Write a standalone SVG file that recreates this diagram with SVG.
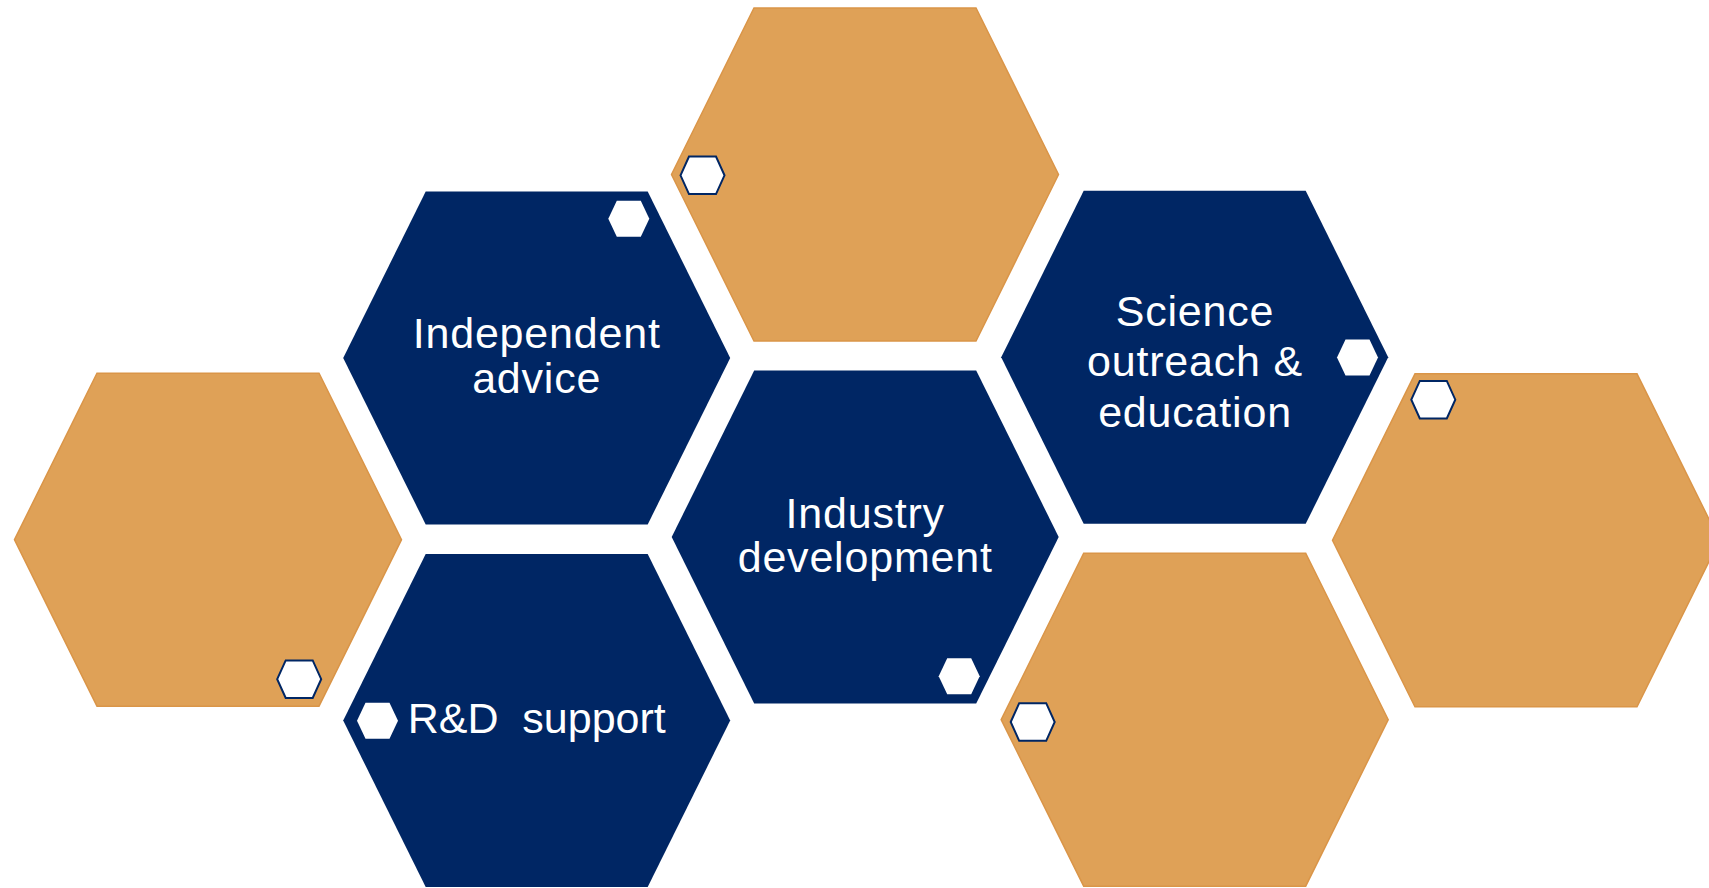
<svg xmlns="http://www.w3.org/2000/svg" xmlns:xlink="http://www.w3.org/1999/xlink" width="1709" height="888" viewBox="0 0 1709 888">
  <style>
    .navy { fill: #002664; }
    .gold { fill: #DFA157; stroke: #DA9548; stroke-width: 1.5; }
    .dot-white { fill: #FFFFFF; }
    .dot-ring { fill: #FFFFFF; stroke: #002664; stroke-width: 2; }
    .lbl { font-family: "Liberation Sans", Arial, sans-serif; font-size: 43px; fill: #FFFFFF; letter-spacing: 0.8px; }
    .mid { text-anchor: middle; }
    .tight { letter-spacing: 0; }
  </style>
  <defs>
    <polygon id="big" points="-193.5,0 -111,-166.5 111,-166.5 193.5,0 111,166.5 -111,166.5"/>
    <polygon id="smallW" points="-20.5,0 -12,-18 12,-18 20.5,0 12,18 -12,18"/>
    <polygon id="smallR" points="-22,0 -13.5,-18.8 13.5,-18.8 22,0 13.5,18.8 -13.5,18.8"/>
  </defs>
  <rect width="1709" height="888" fill="#FFFFFF"/>

  <g id="connectors"></g>

  <g id="hex-top-gold">
    <use href="#big" class="gold" x="865" y="174.5"/>
    <use href="#smallR" class="dot-ring" x="702.5" y="175.3"/>
  </g>

  <g id="hex-left-gold">
    <use href="#big" class="gold" x="208" y="539.7"/>
    <use href="#smallR" class="dot-ring" x="299.2" y="679.2"/>
  </g>

  <g id="hex-right-gold">
    <use href="#big" class="gold" x="1526" y="540.3"/>
    <use href="#smallR" class="dot-ring" x="1433.3" y="399.7"/>
  </g>

  <g id="hex-bottom-right-gold">
    <use href="#big" class="gold" x="1194.7" y="719.7"/>
    <use href="#smallR" class="dot-ring" x="1032.7" y="722"/>
  </g>

  <g id="hex-independent-advice">
    <use href="#big" class="navy" x="536.7" y="358"/>
    <use href="#smallW" class="dot-white" x="628.8" y="218.7"/>
    <text class="lbl mid" x="536.7" y="348.3">Independent</text>
    <text class="lbl mid" x="536.7" y="393.3">advice</text>
  </g>

  <g id="hex-industry-development">
    <use href="#big" class="navy" x="865.2" y="537"/>
    <use href="#smallW" class="dot-white" x="959.2" y="676.3"/>
    <text class="lbl mid" x="865.2" y="528.3">Industry</text>
    <text class="lbl mid" x="865.2" y="571.7">development</text>
  </g>

  <g id="hex-science-outreach">
    <use href="#big" class="navy" x="1194.7" y="357.3"/>
    <use href="#smallW" class="dot-white" x="1357.5" y="357.5"/>
    <text class="lbl mid" x="1195" y="325.7">Science</text>
    <text class="lbl mid" x="1195" y="375.7">outreach &amp;</text>
    <text class="lbl mid" x="1195" y="426.7">education</text>
  </g>

  <g id="hex-rd-support">
    <use href="#big" class="navy" x="536.7" y="720.5"/>
    <use href="#smallW" class="dot-white" x="377.5" y="720.8"/>
    <text class="lbl tight" x="407.7" y="733.3" xml:space="preserve">R&amp;D  support</text>
  </g>
</svg>
